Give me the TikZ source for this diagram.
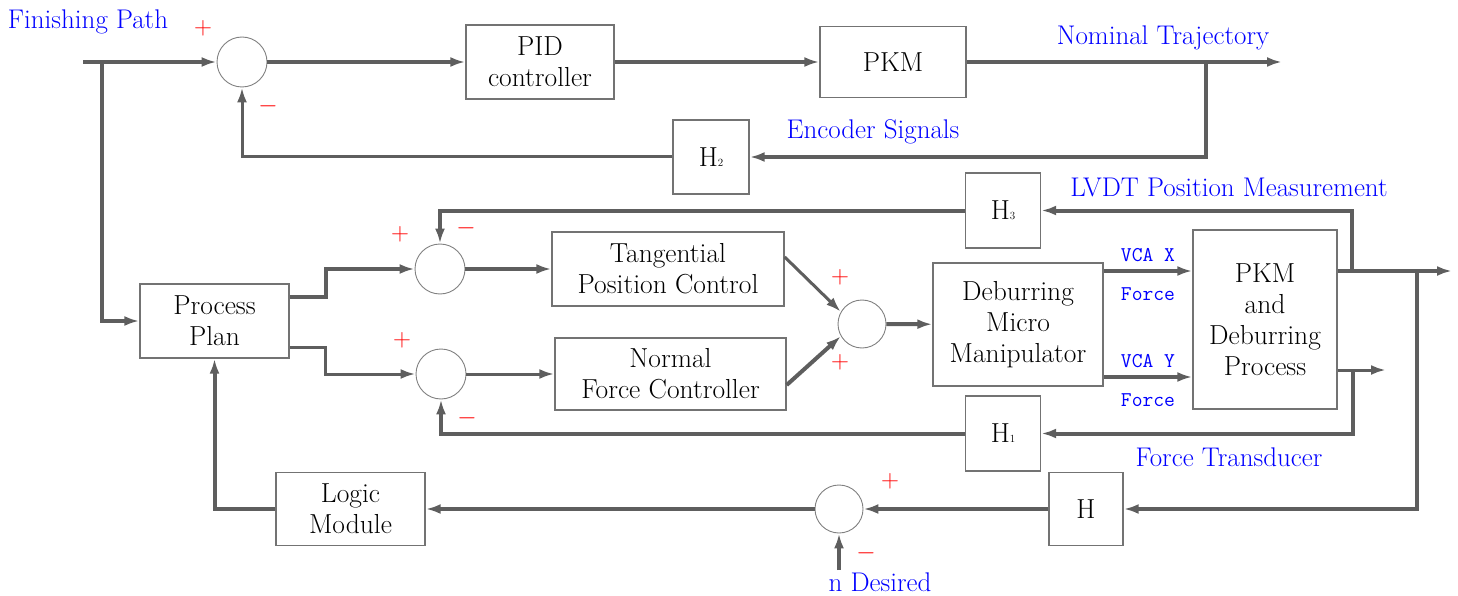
\documentclass[tikz,border=0pt]{standalone}
\usetikzlibrary{arrows.meta}
\definecolor{wire}{HTML}{5E5E5E}
\definecolor{frame}{HTML}{737373}
\definecolor{lblue}{HTML}{0000FF}
\definecolor{sgnred}{HTML}{FF0000}
\newcommand{\hsub}[1]{H{\fontsize{11}{11}\selectfont #1}}

\begin{document}
\begin{tikzpicture}[x=1pt,y=-1pt,
    blk/.style={draw=frame,line width=1.4pt,fill=white,align=center,inner sep=0pt,
      font=\fontsize{27.5}{31}\selectfont},
    sum/.style={circle,draw=gray,line width=0.9pt,minimum size=50pt,inner sep=0pt},
    sig/.style={draw=wire,line width=4pt,-{Latex[length=15pt,width=10pt]}},
    sigthin/.style={sig,line width=3pt},
    lbl/.style={text=lblue,font=\fontsize{27}{30}\selectfont},
    vca/.style={text=lblue,font=\ttfamily\fontsize{21}{22}\selectfont},
    sgn/.style={text=sgnred,font=\fontsize{28}{30}\selectfont}]
  \useasboundingbox (0,0) rectangle (1458,596);

  % blocks
  \node[blk,minimum width=148pt,minimum height=74pt] (pid) at (540,62) {PID\\controller};
  \node[blk,minimum width=146pt,minimum height=71pt] (pkm) at (893,62) {PKM};
  \node[blk,minimum width=76pt,minimum height=74pt] (h2) at (711,157) {\hsub{2}};
  \node[blk,minimum width=75pt,minimum height=75pt] (h3) at (1003,210.5) {\hsub{3}};
  \node[blk,minimum width=232pt,minimum height=74pt] (tpc) at (668,269) {Tangential\\Position Control};
  \node[blk,minimum width=231pt,minimum height=72pt] (nfc) at (670.5,374) {Normal\\Force Controller};
  \node[blk,minimum width=170pt,minimum height=123pt] (dmm) at (1018,324.5) {Deburring\\Micro\\Manipulator};
  \node[blk,minimum width=144pt,minimum height=179pt] (pkmd) at (1265,319.5) {PKM\\and\\Deburring\\Process};
  \node[blk,minimum width=75pt,minimum height=75pt] (h1) at (1003,433.5) {\hsub{1}};
  \node[blk,minimum width=149pt,minimum height=74pt] (pp) at (214.5,321) {Process\\Plan};
  \node[blk,minimum width=74pt,minimum height=73pt] (h) at (1086,509) {H};
  \node[blk,minimum width=149pt,minimum height=73pt] (lm) at (350.5,509) {Logic\\Module};

  % summing junctions
  \node[sum] (s1) at (242,62) {};
  \node[sum] (s2) at (440,269) {};
  \node[sum] (s3) at (441,374) {};
  \node[sum,minimum size=48pt] (s4) at (862,324) {};
  \node[sum,minimum size=48pt] (s5) at (839,509) {};

  % free ends and branch points
  \coordinate (in) at (83,62);
  \coordinate (b1) at (102,62);
  \coordinate (out1) at (1282,62);
  \coordinate (b2) at (1206,62);
  \coordinate (vx) at ([yshift=53.5pt]dmm.east);
  \coordinate (vy) at ([yshift=-52.5pt]dmm.east);
  \coordinate (po) at (pkmd.east |- vx);
  \coordinate (pl) at ([yshift=-50.5pt]pkmd.east);
  \coordinate (out2) at (1452,271);
  \coordinate (out3) at (1386,370);
  \coordinate (b3) at (1352,271);
  \coordinate (b4) at (1417,271);
  \coordinate (b5) at (1353,370);
  \coordinate (nd) at (839,570);

  % top loop
  \draw[sig] (in) -- (s1);
  \draw[sig] (b1) |- (pp);
  \draw[sig] (s1) -- (pid);
  \draw[sig] (pid) -- (pkm);
  \draw[sig] (pkm) -- (out1);
  \draw[sig] (b2) |- (h2);
  \draw[sigthin] (h2) -| (s1);

  % inner loops
  \draw[sig] ([yshift=24pt]pp.east) -- ++(36,0) |- (s2);
  \draw[sigthin] ([yshift=-26pt]pp.east) -- ++(36,0) |- (s3);
  \draw[sig] (s2) -- (tpc);
  \draw[sigthin] (s3) -- (nfc);
  \draw[sigthin] ([yshift=12pt]tpc.east) -- (s4.150);
  \draw[sig] ([yshift=-11pt]nfc.east) -- (s4.210);
  \draw[sig] (s4) -- (dmm);
  \draw[sig] (vx) -- (vx -| pkmd.west)
    node[vca,midway,above=4pt] {VCA X} node[vca,midway,below=11pt] {Force};
  \draw[sig] (vy) -- (vy -| pkmd.west)
    node[vca,midway,above=4pt] {VCA Y} node[vca,midway,below=11pt] {Force};
  \draw[sig] (po) -- (out2);
  \draw[sigthin] (pl) -- (out3);
  \draw[sig] (b3) |- (h3);
  \draw[sig] (h3) -| (s2);
  \draw[sig] (b5) |- (h1);
  \draw[sig] (h1) -| (s3);

  % force loop
  \draw[sig] (b4) |- (h);
  \draw[sig] (h) -- (s5);
  \draw[sig] (s5) -- (lm);
  \draw[sig] (lm) -| (pp);
  \draw[sig] (nd) -- (s5);

  % labels
  \node[lbl] (tfin) at (88,22) {Finishing Path};
  \node[lbl] (tnom) at (1163,38) {Nominal Trajectory};
  \node[lbl] (tenc) at (873,132) {Encoder Signals};
  \node[lbl] (tlvdt) at (1229,187) {LVDT Position Measurement};
  \node[lbl] (tft) at (1229,457) {Force Transducer};
  \node[lbl] (tnd) at (880,582) {n Desired};

  % signs
  \node[sgn] at (203,28) {$+$};
  \node[sgn] at (268,106) {$-$};
  \node[sgn] at (400,234) {$+$};
  \node[sgn] at (466,228) {$-$};
  \node[sgn] at (402,340) {$+$};
  \node[sgn] at (467,418) {$-$};
  \node[sgn] at (840,277) {$+$};
  \node[sgn] at (840,362) {$+$};
  \node[sgn] at (890,481) {$+$};
  \node[sgn] at (866,553) {$-$};
\end{tikzpicture}
\end{document}
